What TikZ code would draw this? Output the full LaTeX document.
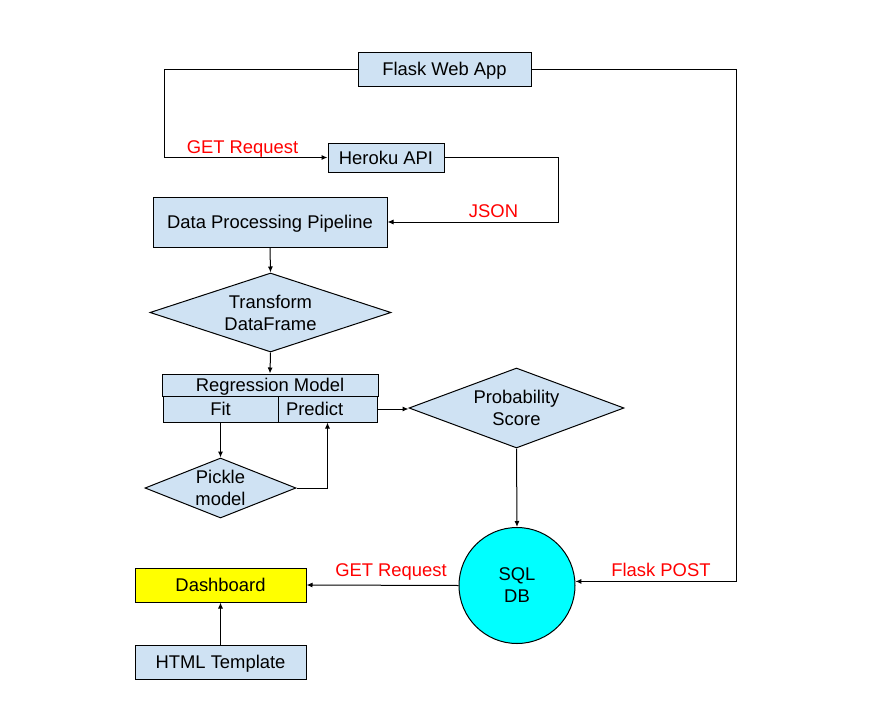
\documentclass[tikz,border=0pt]{standalone}
\usepackage{fontspec}
\setmainfont{Liberation Sans}
\usetikzlibrary{shapes.geometric,arrows.meta}
\definecolor{lb}{HTML}{CFE2F3}
\definecolor{aqua}{HTML}{00FFFF}
\definecolor{yel}{HTML}{FFFF00}
\definecolor{rd}{HTML}{FF0000}
\begin{document}
\begin{tikzpicture}[x=1pt,y=-1pt, font=\fontsize{18.4}{22}\selectfont, line width=1pt,
  >={Latex[length=6pt,width=5pt]},
  box/.style={draw, fill=lb, inner sep=0pt, text height=13.2pt, text depth=0pt},
  dia/.style={draw, fill=lb, diamond, inner sep=0pt},
  lbl/.style={text=rd, anchor=base, inner sep=0pt}]
\useasboundingbox (0,0) rectangle (876,720);
\fill[white] (0,0) rectangle (876,720);
% nodes
\node[box, minimum width=173pt, minimum height=34pt] (flask) at (444.5,69) {Flask Web App};
\node[box, minimum width=116pt, minimum height=29pt] (heroku) at (386,157.5) {Heroku API};
\node[box, minimum width=234pt, minimum height=50pt] (pipe) at (270,222) {Data Processing Pipeline};
\node[dia, minimum width=241pt, minimum height=79pt,
  label={[align=center, inner sep=0pt]center:Transform\\DataFrame}] (trans) at (270.5,312.5) {};
\node[box, minimum width=216pt, minimum height=22pt] (reg) at (270,385) {Regression Model};
\node[box, minimum width=115pt, minimum height=26pt] (fit) at (220.5,409) {Fit};
\node[box, minimum height=26pt, text width=83pt, inner xsep=8pt, align=left] (pred) at (327.5,409) {Predict};
\node[dia, minimum width=151pt, minimum height=60pt,
  label={[align=center, inner sep=0pt]center:Pickle\\model}] (pickle) at (220.5,488) {};
\node[dia, minimum width=215pt, minimum height=80pt,
  label={[align=center, inner sep=0pt]center:Probability\\Score}] (prob) at (516.5,408) {};
\node[circle, draw, fill=aqua, minimum size=116pt, inner sep=0pt, align=center] (sql) at (517,585.5) {SQL\\DB};
\node[box, fill=yel, minimum width=171pt, minimum height=34pt] (dash) at (220.5,585) {Dashboard};
\node[box, minimum width=171pt, minimum height=34pt] (html) at (220.5,662) {HTML Template};
% connectors
\draw[->] (flask.west) -- ++(-193,0) |- (heroku.west);
\draw[->] (heroku.east) -- ++(114,0) |- (pipe.east);
\draw[->] (pipe.south) -- (trans.north);
\draw[->] (trans.south) -- (reg.north);
\draw[->] (fit.south) -- (pickle.north);
\draw[->] (pickle.east) -| (pred.south);
\draw[->] (pred.east) -- (pred.east -| prob.west);
\draw[->] (prob.south) -- (sql.north);
\draw[->] (flask.east) -- ++(205,0) |- (sql.4);
\draw[->] (sql.west) -- (dash.east);
\draw[->] (html.north) -- (dash.south);
% labels
\node[lbl] (l1) at (242.5,153) {GET Request};
\node[lbl] (l2) at (493.5,217) {JSON};
\node[lbl] (l3) at (391,576) {GET Request};
\node[lbl] (l4) at (661,576) {Flask POST};
\end{tikzpicture}
\end{document}
